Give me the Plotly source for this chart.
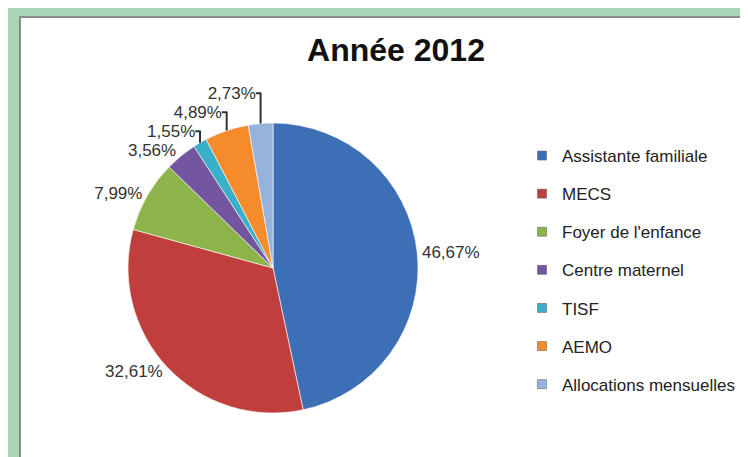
import plotly.graph_objects as go

categories = ['Assistante familiale', 'MECS', "Foyer de l'enfance", 'Centre maternel',
              'TISF', 'AEMO', 'Allocations mensuelles']
shares = [46.67, 32.61, 7.99, 3.56, 1.55, 4.89, 2.73]
colors = ['#3D6FB6', '#C03F3D', '#8DB44B', '#74559F', '#3AAFC9', '#F68B2C', '#95B3DD']

W, H = 748, 457

fig = go.Figure()

fig.add_trace(go.Pie(
    labels=categories,
    values=shares,
    sort=False,
    direction='clockwise',
    rotation=0,
    marker=dict(colors=colors, line=dict(color='rgba(255,255,255,0.6)', width=1)),
    texttemplate='%{value:.2f}%',
    textposition='outside',
    outsidetextfont=dict(family='Liberation Sans', size=17, color='#333333'),
    showlegend=False,
    domain=dict(x=[120 / W, 410 / W], y=[52 / H, 342 / H]),
))

# legend entries (separate so the item spacing can follow the reference)
for name, col in zip(categories, colors):
    fig.add_trace(go.Scatter(
        x=[None], y=[None], mode='markers', name=name, legendgroup=name,
        marker=dict(symbol='square', size=9, color=col,
                    line=dict(color='#555555', width=0.5)),
    ))

fig.update_layout(
    width=W, height=H,
    margin=dict(l=0, r=0, t=0, b=0),
    paper_bgcolor='#A8D5B5',
    plot_bgcolor='rgba(0,0,0,0)',
    separators=', ',
    title=dict(text='<b>Année 2012</b>', x=388 / W, xanchor='center',
               y=1 - 42 / H, yanchor='middle',
               font=dict(family='Liberation Sans', size=32, color='#111111')),
    legend=dict(x=514 / W, xanchor='left', y=1 - 130 / H, yanchor='top',
                tracegroupgap=13, bgcolor='rgba(0,0,0,0)',
                font=dict(family='Liberation Sans', size=17, color='#222222')),
    xaxis=dict(visible=False), yaxis=dict(visible=False),
    shapes=[dict(type='rect', xref='paper', yref='paper', layer='below',
                 x0=12 / W, x1=1.01, y0=-0.01, y1=1 - 9 / H,
                 fillcolor='white', line=dict(color='#8C8C8C', width=2))],
)

fig.write_html('out.html')
